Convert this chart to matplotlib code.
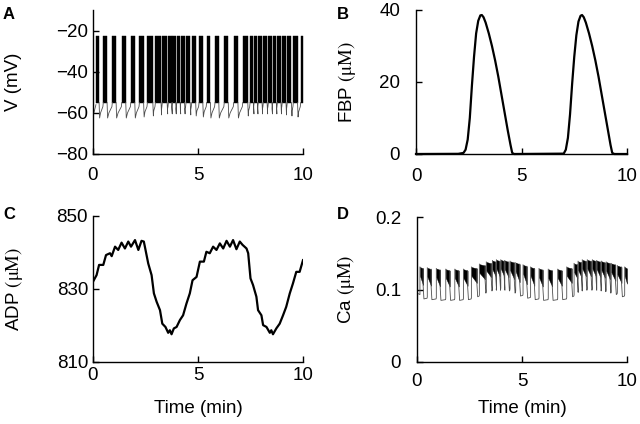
import numpy as np
import matplotlib.pyplot as plt

plt.rcParams['font.family'] = ['Liberation Sans', 'DejaVu Sans']
plt.rcParams['mathtext.fontset'] = 'stix'

# burst onsets (min), burst durations (min)
burst_on = [0.14, 0.49, 0.92, 1.37, 1.80, 2.21, 2.59, 2.97, 3.30, 3.59, 3.78,
            3.99, 4.18, 4.43, 4.70, 5.05, 5.41, 5.81, 6.25, 6.70, 7.13, 7.48,
            7.67, 7.87, 8.11, 8.35, 8.56, 8.78, 9.01, 9.25, 9.54, 9.89]
burst_dur = [0.15, 0.18, 0.18, 0.19, 0.19, 0.2, 0.26, 0.27, 0.23, 0.16, 0.16,
             0.16, 0.18, 0.2, 0.19, 0.18, 0.18, 0.18, 0.19, 0.2, 0.24, 0.16,
             0.16, 0.18, 0.18, 0.17, 0.17, 0.17, 0.18, 0.2, 0.2, 0.11]
# voltage levels (mV)
v_peak = -22.5
v_plateau = -55.0
v_start = -60.0
v_min = [-62.5, -62.5, -62.5, -62.5, -62.5, -62.0, -61.5, -61.0, -60.5, -60.5,
         -60.5, -60.5, -60.5, -61.0, -61.5, -62.0, -62.5, -62.5, -62.5, -62.5,
         -61.5, -60.5, -60.5, -60.5, -60.5, -60.5, -60.5, -60.5, -61.0, -61.5,
         -62.0, -62.0]
# calcium levels (uM)
ca_start = 0.095
ca_top = [0.131, 0.130, 0.129, 0.128, 0.128, 0.128, 0.131, 0.135, 0.138, 0.140,
          0.141, 0.141, 0.140, 0.139, 0.137, 0.134, 0.131, 0.129, 0.128, 0.128,
          0.131, 0.136, 0.139, 0.141, 0.141, 0.141, 0.140, 0.139, 0.138, 0.136,
          0.133, 0.131]
ca_base = [0.087, 0.086, 0.085, 0.085, 0.085, 0.086, 0.090, 0.095, 0.098, 0.099,
           0.099, 0.099, 0.098, 0.095, 0.091, 0.088, 0.086, 0.085, 0.085, 0.086,
           0.090, 0.096, 0.098, 0.099, 0.099, 0.099, 0.098, 0.097, 0.095, 0.093,
           0.090, 0.089]

# FBP (uM)
fbp_t = [0, 2.0, 2.25, 2.35, 2.45, 2.55, 2.65, 2.75, 2.85, 2.95, 3.05, 3.12,
         3.2, 3.3, 3.45, 3.6, 3.75, 3.9, 4.05, 4.2, 4.35, 4.48, 4.56, 4.65,
         7.0, 7.1, 7.2, 7.3, 7.4, 7.5, 7.6, 7.7, 7.8, 7.87, 7.95, 8.05, 8.2,
         8.35, 8.5, 8.65, 8.8, 8.95, 9.1, 9.22, 9.3, 9.4, 10.0]
fbp = [0, 0.05, 0.3, 1.2, 4, 10, 19, 27, 33.5, 37, 38.5, 38.6,
       38, 36.5, 33.5, 30, 26, 21.5, 16.5, 11.5, 6.5, 2.5, 0.3, 0,
       0.1, 1.2, 4.5, 11, 19.5, 27, 33, 36.8, 38.4, 38.6, 38, 36.5, 33.5,
       30, 26, 21.5, 16.5, 11.5, 6.5, 2.5, 0.3, 0, 0]

# ADP (uM)
adp_t = [0, 0.17, 0.29, 0.49, 0.62, 0.81, 0.89, 1.05, 1.2, 1.36, 1.52, 1.68,
         1.81, 2.0, 2.16, 2.31, 2.42, 2.47, 2.63, 2.79, 2.9, 3.03, 3.19, 3.3,
         3.45, 3.58, 3.66, 3.74, 3.85, 3.98, 4.14, 4.29, 4.45, 4.61, 4.74,
         4.93, 5.09, 5.28, 5.4, 5.56, 5.72, 5.88, 6.04, 6.2, 6.36, 6.52, 6.67,
         6.83, 6.99, 7.12, 7.31, 7.39, 7.5, 7.62, 7.78, 7.86, 8.02, 8.1, 8.26,
         8.42, 8.49, 8.57, 8.73, 8.89, 9.05, 9.2, 9.37, 9.52, 9.68, 9.84, 10.0]
adp = [832.0, 833.8, 836.6, 836.6, 839.3, 839.8, 839.0, 841.6, 840.7, 842.7,
       841.1, 843.0, 841.6, 843.4, 840.7, 843.2, 843.0, 841.6, 837.0, 833.8,
       828.8, 826.5, 824.2, 820.5, 819.6, 818.0, 818.7, 817.6, 819.2, 819.6,
       821.5, 822.8, 826.0, 828.8, 832.4, 833.3, 837.5, 837.5, 840.2, 839.8,
       841.6, 840.7, 842.5, 841.1, 843.2, 841.6, 843.4, 840.9, 843.0, 842.1,
       841.1, 839.8, 832.9, 831.1, 827.9, 824.2, 822.8, 820.1, 819.6, 818.0,
       818.7, 817.6, 819.2, 820.5, 822.8, 825.1, 828.8, 831.5, 834.7, 834.7,
       837.9]

T_END = 10.0


def style_axes(ax, ylim, yticks, xpad, ypad, ylabels=None):
    ax.set_xlim(0, T_END)
    ax.set_ylim(*ylim)
    ax.set_xticks([0, 5, 10])
    ax.set_yticks(yticks)
    if ylabels is not None:
        ax.set_yticklabels(ylabels)
    for s in ['top', 'right']:
        ax.spines[s].set_visible(False)
    for s in ['left', 'bottom']:
        ax.spines[s].set_linewidth(1.0)
    ax.tick_params(direction='in', length=4.5, width=1.0, labelsize=13.5)
    ax.tick_params(axis='x', pad=xpad)
    ax.tick_params(axis='y', pad=ypad)


def draw_voltage(ax):
    n = len(burst_on)
    ax.plot([0, 0.03, burst_on[0]], [v_start, v_start - 0.5, v_plateau - 1],
            color='0.3', lw=0.6)
    for i in range(n):
        on = burst_on[i]
        off = min(on + burst_dur[i], T_END)
        ax.fill_between([on, off], [v_plateau, v_plateau], [v_peak, v_peak],
                        color='k', lw=0.3, edgecolor='k')
        if off >= T_END:
            continue
        nxt = burst_on[i + 1] if i + 1 < n else T_END
        gap = nxt - off
        ax.plot([off, off + 0.025, off + 0.35 * gap, nxt - 0.02, nxt],
                [v_plateau, v_min[i], v_min[i] + 2.5, v_plateau - 2, v_plateau],
                color='0.3', lw=0.6)


def draw_calcium(ax):
    n = len(burst_on)
    ax.plot([0, burst_on[0], burst_on[0]], [ca_start, ca_start - 0.002, ca_top[0]],
            color='0.3', lw=0.6)
    for i in range(n):
        on = burst_on[i]
        off = min(on + burst_dur[i], T_END)
        low_left = ca_top[i] - 0.012
        low_right = ca_base[i] + 0.019
        ax.fill_between([on, off], [low_left, low_right], [ca_top[i], ca_top[i] - 0.002],
                        color='k', lw=0.3, edgecolor='k')
        if off >= T_END:
            continue
        nxt = burst_on[i + 1] if i + 1 < n else T_END
        nxt_top = ca_top[i + 1] if i + 1 < n else ca_top[i]
        ax.plot([off, off, off + 0.04, nxt - 0.01, nxt, nxt],
                [ca_top[i] - 0.002, low_right, ca_base[i], ca_base[i] + 0.001,
                 ca_base[i] + 0.003, nxt_top],
                color='0.3', lw=0.6)


def main():
    fig = plt.figure(figsize=(6.4, 4.24), dpi=100)
    W, H = 640.0, 424.0

    axA = fig.add_axes([93 / W, 1 - 154 / H, 210 / W, 144 / H])
    axB = fig.add_axes([416 / W, 1 - 154 / H, 211 / W, 144 / H])
    axC = fig.add_axes([93 / W, 1 - 362 / H, 210 / W, 146 / H])
    axD = fig.add_axes([417 / W, 1 - 362 / H, 210 / W, 145 / H])

    draw_voltage(axA)
    style_axes(axA, (-80, -10), [-80, -60, -40, -20], 9.0, 3.6)
    axA.set_ylabel('V (mV)', fontsize=13.5)
    axA.yaxis.set_label_coords(-71 / 210, 0.5)

    axB.plot(fbp_t, fbp, color='k', lw=1.6, clip_on=False)
    style_axes(axB, (0, 40), [0, 20, 40], 10.0, 11.5)
    axB.set_ylabel(r'FBP $\mathrm{(μM)}$', fontsize=13.5)
    axB.yaxis.set_label_coords(-58 / 211, 0.5)

    axC.plot(adp_t, adp, color='k', lw=1.6)
    style_axes(axC, (810, 850), [810, 830, 850], 3.6, 3.6)
    axC.set_ylabel(r'ADP $\mathrm{(μM)}$', fontsize=13.5)
    axC.yaxis.set_label_coords(-68 / 210, 0.5)
    axC.set_xlabel('Time (min)', fontsize=13.5)
    axC.xaxis.set_label_coords(0.5, -38 / 146)

    draw_calcium(axD)
    style_axes(axD, (0, 0.2), [0, 0.1, 0.2], 7.9, 11.5, ['0', '0.1', '0.2'])
    axD.set_ylabel(r'Ca $\mathrm{(μM)}$', fontsize=13.5)
    axD.yaxis.set_label_coords(-60 / 210, 0.5)
    axD.set_xlabel('Time (min)', fontsize=13.5)
    axD.xaxis.set_label_coords(0.5, -38 / 145)

    for letter, x, y in [('A', 3, 7), ('B', 337, 7), ('C', 3, 207), ('D', 337, 207)]:
        fig.text(x / W, 1 - y / H, letter, fontsize=12, fontweight='bold',
                 ha='left', va='top')

    fig.savefig('out.png', dpi=100)


if __name__ == '__main__':
    main()
